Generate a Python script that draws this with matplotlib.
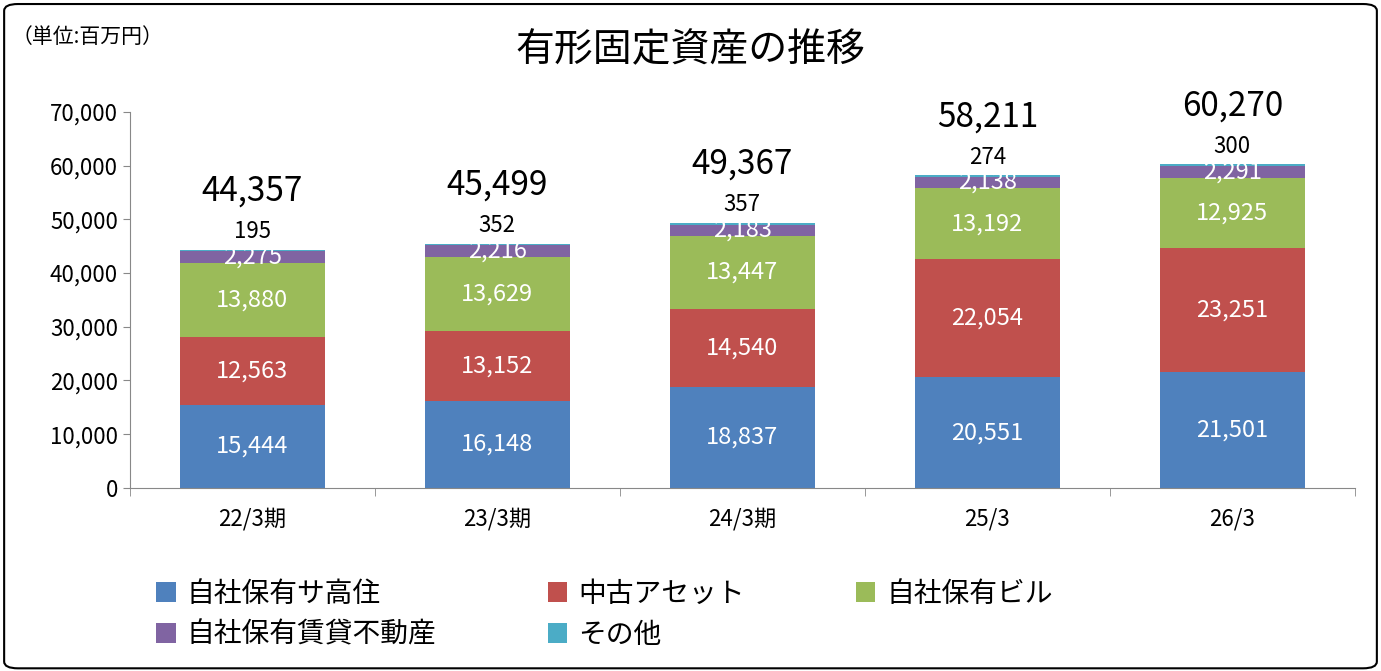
import matplotlib
matplotlib.use("Agg")
import matplotlib.pyplot as plt
from matplotlib.patches import FancyBboxPatch
import numpy as np

plt.rcParams['font.family'] = ['Noto Sans CJK JP', 'DejaVu Sans']

categories = ["22/3期", "23/3期", "24/3期", "25/3", "26/3"]
series_names = ["自社保有サ高住", "中古アセット", "自社保有ビル", "自社保有賃貸不動産", "その他"]
sakoju = [15444, 16148, 18837, 20551, 21501]
chuko = [12563, 13152, 14540, 22054, 23251]
biru = [13880, 13629, 13447, 13192, 12925]
chintai = [2275, 2216, 2183, 2138, 2291]
sonota = [195, 352, 357, 274, 300]
totals = [44357, 45499, 49367, 58211, 60270]
colors = ["#4F81BD", "#C0504D", "#9BBB59", "#8064A2", "#4BACC6"]

fig = plt.figure(figsize=(13.81, 6.71), dpi=100)
ax = fig.add_axes([0.094, 0.273, 0.887, 0.56])
fig.patches.append(FancyBboxPatch((0.003, 0.004), 0.994, 0.99, boxstyle="round,pad=0,rounding_size=0.01",
                                  transform=fig.transFigure, fill=False, ec="black", lw=1.5))

x = np.arange(len(categories))
w = 0.59
bottom = np.zeros(len(x))
data = [sakoju, chuko, biru, chintai, sonota]
for i, (vals, c, name) in enumerate(zip(data, colors, series_names)):
    vals = np.array(vals, dtype=float)
    ax.bar(x, vals, w, bottom=bottom, color=c, label=name)
    for xi, b, v in zip(x, bottom, vals):
        if i < 4:
            ax.text(xi, b + v / 2, f"{int(v):,}", ha="center", va="center", color="white", fontsize=17)
        else:
            ax.annotate(f"{int(v):,}", (xi, b + v), xytext=(0, 13), textcoords="offset points",
                        ha="center", va="center", fontsize=16, color="black")
    bottom += vals
for xi, b, t in zip(x, bottom, totals):
    ax.annotate(f"{t:,}", (xi, b), xytext=(0, 42), textcoords="offset points",
                ha="center", va="center", fontsize=24, color="black")

ax.set_xlim(-0.5, 4.5)
ax.set_ylim(0, 70000)
ax.set_yticks(np.arange(0, 70001, 10000))
ax.set_yticklabels([f"{v:,}" for v in range(0, 70001, 10000)], fontsize=16)
ax.set_xticks(x)
ax.set_xticklabels(categories, fontsize=16)
ax.set_xticks(np.arange(-0.5, 4.6, 1), minor=True)
ax.tick_params(axis="x", which="major", length=0, pad=14)
ax.tick_params(axis="x", which="minor", length=6, color="#888888")
ax.tick_params(axis="y", length=5, color="#888888")
for s in ["top", "right"]:
    ax.spines[s].set_visible(False)
ax.spines["left"].set_color("#888888")
ax.spines["bottom"].set_color("#888888")

fig.text(0.5, 0.925, "有形固定資産の推移", ha="center", va="center", fontsize=28)
fig.text(0.008, 0.945, "（単位:百万円）", ha="left", va="center", fontsize=15)

h, l = ax.get_legend_handles_labels()
order = [0, 3, 1, 4, 2]
fig.legend([h[i] for i in order], [l[i] for i in order], loc="upper left", bbox_to_anchor=(0.095, 0.175),
           ncol=3, frameon=False, fontsize=20, handlelength=0.7, handleheight=0.7, columnspacing=4.0,
           handletextpad=0.4, labelspacing=0.4)

fig.savefig("out.png", dpi=100)
